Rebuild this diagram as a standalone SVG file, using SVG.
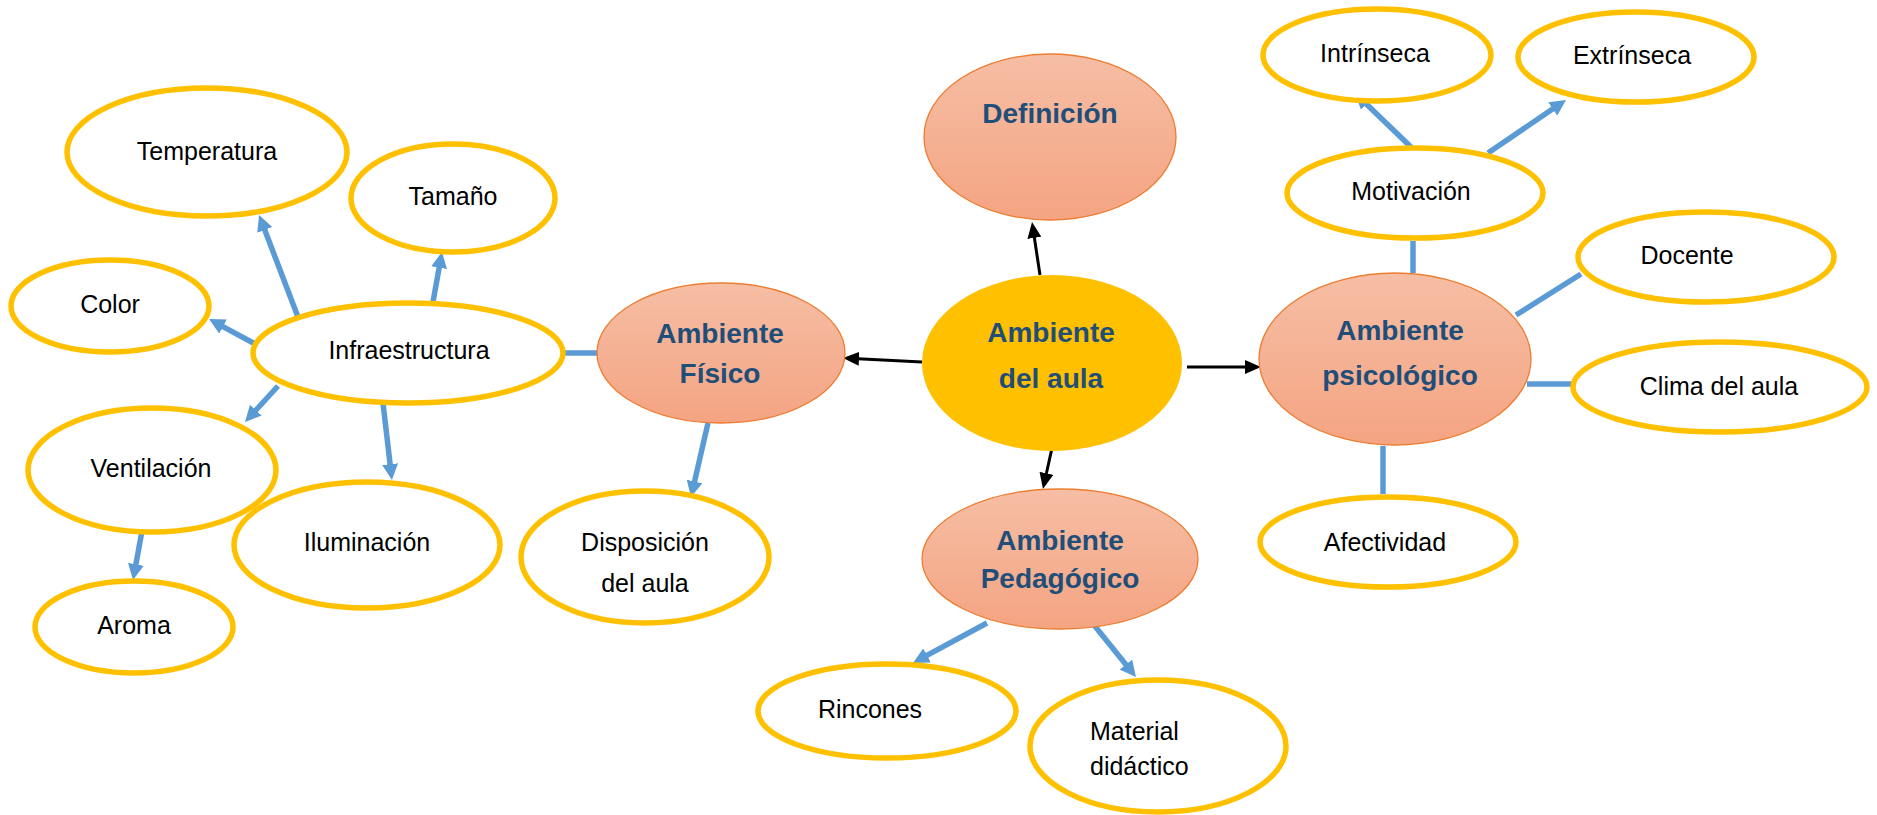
<svg xmlns="http://www.w3.org/2000/svg" width="1877" height="815" viewBox="0 0 1877 815">
<defs>
<linearGradient id="salmon" x1="0" y1="0" x2="0" y2="1">
<stop offset="0" stop-color="#F6BEA5"/>
<stop offset="1" stop-color="#F4A482"/>
</linearGradient>
<marker id="ab" viewBox="0 0 16 16" refX="6" refY="8" markerWidth="16" markerHeight="16" markerUnits="userSpaceOnUse" orient="auto">
<path d="M0,0 L16,8 L0,16 z" fill="#5B9BD5"/>
</marker>
<marker id="ak" viewBox="0 0 16 14" refX="6" refY="7" markerWidth="16" markerHeight="14" markerUnits="userSpaceOnUse" orient="auto">
<path d="M0,0 L16,7 L0,14 z" fill="#000"/>
</marker>
</defs>
<style>
.main{fill:url(#salmon);stroke:#ED7D31;stroke-width:1.3}
.core{fill:#FFC000;stroke:none}
.leaf{fill:#fff;stroke:#FFC000;stroke-width:5.5}
.bt{font-family:"Liberation Sans",Arial,sans-serif;font-weight:bold;font-size:28px;fill:#1F4E79;text-anchor:middle}
.t{font-family:"Liberation Sans",Arial,sans-serif;font-size:25px;fill:#000;text-anchor:middle}
.bl{stroke:#5B9BD5;stroke-width:5.5;fill:none}
.bk{stroke:#000;stroke-width:3;fill:none}
</style>
<rect width="1877" height="815" fill="#fff"/>

<g id="connectors">
<line class="bk" x1="1040" y1="275" x2="1033.5" y2="231.9" marker-end="url(#ak)"/>
<line class="bk" x1="922" y1="362" x2="853" y2="358.5" marker-end="url(#ak)"/>
<line class="bk" x1="1187" y1="367" x2="1251" y2="367" marker-end="url(#ak)"/>
<line class="bk" x1="1052" y1="448" x2="1045.1" y2="479.2" marker-end="url(#ak)"/>

<line class="bl" x1="298" y1="317" x2="262.6" y2="224.3" marker-end="url(#ab)"/>
<line class="bl" x1="433" y1="302" x2="440.2" y2="261.8" marker-end="url(#ab)"/>
<line class="bl" x1="257" y1="345" x2="217.8" y2="323.8" marker-end="url(#ab)"/>
<line class="bl" x1="278" y1="386" x2="251.8" y2="414.6" marker-end="url(#ab)"/>
<line class="bl" x1="383" y1="403" x2="390.8" y2="470.1" marker-end="url(#ab)"/>
<line class="bl" x1="142" y1="531" x2="134.8" y2="570.2" marker-end="url(#ab)"/>
<line class="bl" x1="708" y1="423" x2="693.2" y2="487.3" marker-end="url(#ab)"/>
<line class="bl" x1="987" y1="623" x2="921.8" y2="658.2" marker-end="url(#ab)"/>
<line class="bl" x1="1094" y1="625" x2="1129.7" y2="669.2" marker-end="url(#ab)"/>
<line class="bl" x1="1412" y1="148" x2="1362.2" y2="99.9" marker-end="url(#ab)"/>
<line class="bl" x1="1488" y1="153" x2="1557.7" y2="105.6" marker-end="url(#ab)"/>

<line class="bl" x1="564" y1="353" x2="598" y2="353"/>
<line class="bl" x1="1413" y1="241" x2="1413" y2="273"/>
<line class="bl" x1="1516" y1="315" x2="1581" y2="274"/>
<line class="bl" x1="1527" y1="384" x2="1573" y2="384"/>
<line class="bl" x1="1383" y1="446" x2="1383" y2="494"/>
</g>

<g id="n-central">
<ellipse class="core" cx="1052" cy="363" rx="130" ry="88"/>
<text class="bt" x="1051" y="342">Ambiente</text>
<text class="bt" x="1051" y="388">del aula</text>
</g>
<g id="n-definicion">
<ellipse class="main" cx="1050" cy="137" rx="126" ry="83"/>
<text class="bt" x="1050" y="123">Definición</text>
</g>
<g id="n-fisico">
<ellipse class="main" cx="721" cy="353" rx="124" ry="70"/>
<text class="bt" x="720" y="343">Ambiente</text>
<text class="bt" x="720" y="383">Físico</text>
</g>
<g id="n-psicologico">
<ellipse class="main" cx="1395" cy="359" rx="136" ry="86"/>
<text class="bt" x="1400" y="340">Ambiente</text>
<text class="bt" x="1400" y="385">psicológico</text>
</g>
<g id="n-pedagogico">
<ellipse class="main" cx="1060" cy="559" rx="138" ry="70"/>
<text class="bt" x="1060" y="550">Ambiente</text>
<text class="bt" x="1060" y="588">Pedagógico</text>
</g>

<g id="n-temperatura">
<ellipse class="leaf" cx="207" cy="152" rx="140" ry="64"/>
<text class="t" x="207" y="160">Temperatura</text>
</g>
<g id="n-tamano">
<ellipse class="leaf" cx="453" cy="198" rx="102" ry="54"/>
<text class="t" x="453" y="205">Tamaño</text>
</g>
<g id="n-color">
<ellipse class="leaf" cx="110" cy="306" rx="99" ry="46"/>
<text class="t" x="110" y="313">Color</text>
</g>
<g id="n-infraestructura">
<ellipse class="leaf" cx="408" cy="353" rx="155" ry="50"/>
<text class="t" x="409" y="359">Infraestructura</text>
</g>
<g id="n-ventilacion">
<ellipse class="leaf" cx="152" cy="470" rx="124" ry="62"/>
<text class="t" x="151" y="477">Ventilación</text>
</g>
<g id="n-iluminacion">
<ellipse class="leaf" cx="367" cy="545" rx="133" ry="63"/>
<text class="t" x="367" y="551">Iluminación</text>
</g>
<g id="n-aroma">
<ellipse class="leaf" cx="134" cy="627" rx="99" ry="46"/>
<text class="t" x="134" y="634">Aroma</text>
</g>
<g id="n-disposicion">
<ellipse class="leaf" cx="645" cy="557" rx="124" ry="66"/>
<text class="t" x="645" y="551">Disposición</text>
<text class="t" x="645" y="592">del aula</text>
</g>
<g id="n-rincones">
<ellipse class="leaf" cx="887" cy="711" rx="129" ry="47"/>
<text class="t" x="870" y="718">Rincones</text>
</g>
<g id="n-material">
<ellipse class="leaf" cx="1158" cy="746" rx="128" ry="66"/>
<text class="t" x="1090" y="740" style="text-anchor:start">Material</text>
<text class="t" x="1090" y="775" style="text-anchor:start">didáctico</text>
</g>
<g id="n-intrinseca">
<ellipse class="leaf" cx="1377" cy="55" rx="114" ry="46"/>
<text class="t" x="1375" y="62">Intrínseca</text>
</g>
<g id="n-extrinseca">
<ellipse class="leaf" cx="1636" cy="57" rx="118" ry="45"/>
<text class="t" x="1632" y="64">Extrínseca</text>
</g>
<g id="n-motivacion">
<ellipse class="leaf" cx="1415" cy="193" rx="128" ry="45"/>
<text class="t" x="1411" y="200">Motivación</text>
</g>
<g id="n-docente">
<ellipse class="leaf" cx="1706" cy="257" rx="128" ry="45"/>
<text class="t" x="1687" y="264">Docente</text>
</g>
<g id="n-clima">
<ellipse class="leaf" cx="1720" cy="387" rx="147" ry="45"/>
<text class="t" x="1719" y="395">Clima del aula</text>
</g>
<g id="n-afectividad">
<ellipse class="leaf" cx="1388" cy="542" rx="128" ry="45"/>
<text class="t" x="1385" y="551">Afectividad</text>
</g>
</svg>
